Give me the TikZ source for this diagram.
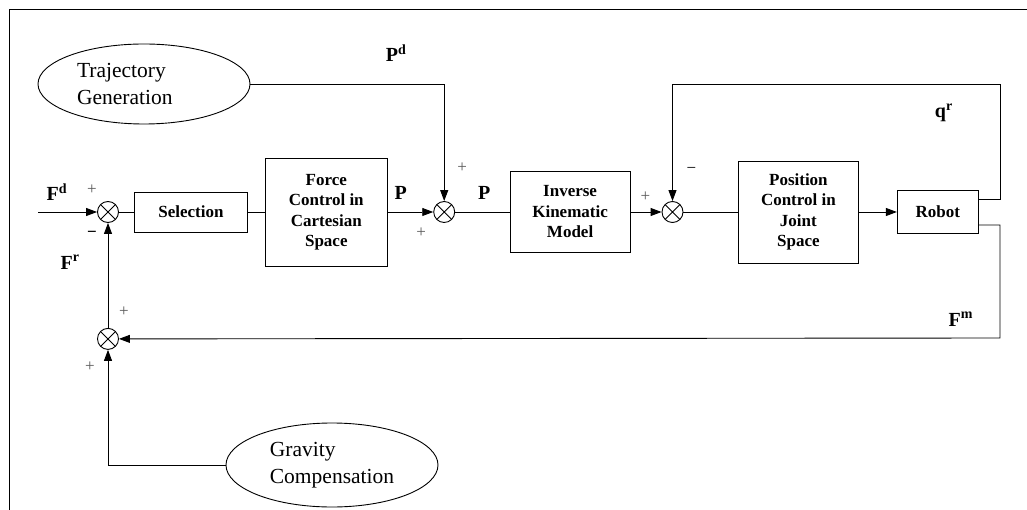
\documentclass[tikz,border=0pt]{standalone}
\usepackage{fontspec}
\setmainfont{Liberation Serif}
\usetikzlibrary{arrows.meta,positioning,calc,shapes.geometric}
\tikzset{
  blk/.style={draw, line width=0.9pt, align=center, inner sep=2pt,
              font=\fontsize{17}{20.5}\selectfont\bfseries},
  oval/.style={draw, ellipse, line width=0.9pt, inner sep=0pt, align=left,
              minimum width=212pt, font=\fontsize{21.5}{27}\selectfont},
  sumj/.style={draw, circle, line width=0.9pt, minimum size=21pt, inner sep=0pt,
              path picture={\draw[line width=0.9pt]
                (path picture bounding box.north west) -- (path picture bounding box.south east)
                (path picture bounding box.north east) -- (path picture bounding box.south west);}},
  sig/.style={-{Triangle[length=11pt,width=8pt]}, line width=0.9pt},
  wire/.style={line width=0.9pt},
  lbl/.style={font=\fontsize{20}{22}\selectfont\bfseries, inner sep=1pt},
  sgn/.style={font=\fontsize{17}{18}\selectfont, text=black!65, inner sep=0pt},
}
\begin{document}
\begin{tikzpicture}[x=1pt, y=-1pt, node distance=17pt]
    \useasboundingbox (0,0) rectangle (1027,510);
    \draw[line width=0.8pt] (9,510) -- (9,9) -- (1027,9);
    % forward path
    \node[sumj] (s1) at (108,212) {};
    \node[blk, minimum width=113pt, minimum height=40pt, right=15pt of s1] (sel) {Selection};
    \node[blk, minimum width=122pt, minimum height=108pt, right=of sel] (force) {Force\\Control in\\Cartesian\\Space};
    \node[sumj, right=45.5pt of force] (s2) {};
    \node[blk, minimum width=120pt, minimum height=81pt, right=54.5pt of s2] (ik) {Inverse\\Kinematic\\Model};
    \node[sumj, right=31pt of ik] (s3) {};
    \node[blk, minimum width=120pt, minimum height=102pt, right=54.5pt of s3] (pos) {Position\\Control in\\Joint\\Space};
    \node[blk, minimum width=81pt, minimum height=43pt, right=38pt of pos] (rob) {Robot};
    \node[sumj, below=105pt of s1] (s4) {};
    \node[oval, minimum height=80pt, text width=134pt] (traj) at (144,84) {Trajectory\\Generation};
    \node[oval, minimum height=84pt] (grav) at (332,465) {Gravity\\Compensation};
    \coordinate (fin) at (38,212);
    \coordinate (qc) at (1000,84);
    \coordinate (fc) at (1000,338);
    % connectors
    \draw[sig] (fin) -- (s1.west);
    \draw[wire] (s1.east) -- (sel.west);
    \draw[wire] (sel.east) -- (force.west);
    \draw[sig] (force.east) -- (s2.west);
    \draw[sig] (traj.east) -| (s2.north);
    \draw[wire] (s2.east) -- (ik.west);
    \draw[sig] (ik.east) -- (s3.west);
    \draw[wire] (s3.east) -- (pos.west);
    \draw[sig] (pos.east) -- (rob.west);
    \draw[sig] ([yshift=13pt]rob.east) -| (qc) -| (s3.north);
    \draw[sig] ([yshift=-13pt]rob.east) -| (fc) -- (s4.east);
    \draw[sig] (s4.north) -- (s1.south);
    \draw[sig] (grav.west) -| (s4.south);
    % signal labels
    \node[lbl] at ([shift={(-51,-20)}]s1) {F\textsuperscript{d}};
    \node[lbl] at ([shift={(-38,50)}]s1) {F\textsuperscript{r}};
    \node[lbl] at ([shift={(13,-19)}]force.east) {P};
    \node[lbl] at ([shift={(40,-19)}]s2) {P};
    \node[lbl] at ([shift={(-48,-159)}]s2) {P\textsuperscript{d}};
    \node[lbl] at ([shift={(6,-99)}]rob) {q\textsuperscript{r}};
    \node[lbl] at ([shift={(23,107)}]rob) {F\textsuperscript{m}};
    % signs
    \node[sgn] at ([shift={(-16,-22)}]s1) {+};
    \node[sgn, text=black] at ([shift={(-16,22)}]s1) {\textbf{−}};
    \node[sgn] at ([shift={(18,-44)}]s2) {+};
    \node[sgn] at ([shift={(-23,21)}]s2) {+};
    \node[sgn] at ([shift={(-27,-15)}]s3) {+};
    \node[sgn, text=black] at ([shift={(19,-42)}]s3) {−};
    \node[sgn] at ([shift={(16,-27)}]s4) {+};
    \node[sgn] at ([shift={(-18,28)}]s4) {+};
  \end{tikzpicture}
\end{document}
